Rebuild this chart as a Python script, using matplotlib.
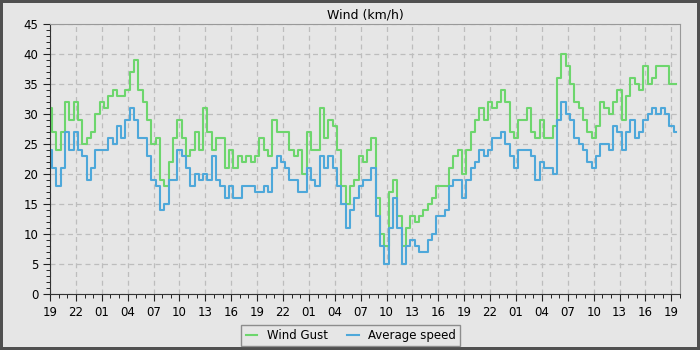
import matplotlib
matplotlib.use("Agg")
import matplotlib.pyplot as plt
import matplotlib.dates as mdates
from matplotlib.ticker import MultipleLocator
import pandas as pd

# wind readings every 30 min, starting 19:00
start = "2023-01-01 19:00"
gust = [31, 27, 24, 27, 32, 29, 32, 29, 25, 26, 27, 30, 32, 31, 33, 34, 33, 33, 34, 37, 39, 34, 32, 29,
        25, 26, 19, 18, 22, 26, 29, 26, 23, 24, 27, 24, 31, 27, 24, 26, 26, 21, 24, 21, 23, 22, 23, 22,
        23, 26, 24, 23, 29, 27, 27, 27, 24, 23, 24, 20, 27, 24, 24, 31, 26, 29, 28, 24, 18, 15, 18, 19,
        23, 22, 24, 26, 16, 10, 8, 17, 19, 13, 8, 11, 13, 12, 13, 14, 15, 16, 18, 18, 18, 21, 23, 24,
        20, 24, 27, 29, 31, 29, 32, 31, 32, 34, 32, 27, 26, 29, 29, 31, 27, 26, 29, 26, 26, 28, 36, 40,
        38, 35, 32, 31, 29, 27, 26, 28, 32, 31, 30, 32, 34, 29, 33, 36, 35, 34, 38, 35, 36, 38, 38, 38, 35, 35]
avg = [24, 21, 18, 21, 27, 24, 27, 24, 23, 19, 21, 24, 24, 24, 26, 25, 28, 26, 29, 31, 29, 26, 26, 23,
       19, 18, 14, 15, 19, 19, 24, 23, 21, 18, 20, 19, 20, 19, 23, 19, 18, 16, 18, 16, 16, 18, 18, 18,
       17, 17, 18, 17, 21, 23, 22, 21, 19, 19, 17, 17, 21, 19, 18, 23, 21, 23, 21, 18, 15, 11, 14, 16,
       18, 19, 19, 21, 13, 8, 5, 11, 16, 11, 5, 8, 9, 8, 7, 7, 9, 10, 13, 13, 14, 18, 19, 19,
       16, 19, 21, 22, 24, 23, 24, 26, 26, 27, 25, 23, 21, 24, 24, 24, 23, 19, 22, 21, 21, 20, 29, 32,
       30, 29, 26, 25, 24, 22, 21, 23, 25, 25, 24, 28, 27, 24, 27, 29, 26, 27, 29, 30, 31, 30, 31, 30, 28, 27]

times = pd.date_range(start, periods=len(gust), freq="30min")

bg = "#e6e6e6"
fig = plt.figure(figsize=(7, 3.5), dpi=100, facecolor=bg, edgecolor="#505050", linewidth=3)
ax = fig.add_axes([0.0714, 0.16, 0.9, 0.7714])
ax.set_facecolor(bg)

ax.plot(times, gust, color="#6dd66d", lw=1.5, drawstyle="steps-mid", label="Wind Gust")
ax.plot(times, avg, color="#4ea8da", lw=1.5, drawstyle="steps-mid", label="Average speed")

ax.set_xlim(pd.Timestamp(start), pd.Timestamp(start) + pd.Timedelta(hours=73))
ax.set_ylim(0, 45)
ax.xaxis.set_major_locator(mdates.HourLocator(byhour=[1, 4, 7, 10, 13, 16, 19, 22]))
ax.xaxis.set_minor_locator(mdates.HourLocator())
ax.xaxis.set_major_formatter(mdates.DateFormatter("%H"))
ax.yaxis.set_major_locator(MultipleLocator(5))
ax.yaxis.set_minor_locator(MultipleLocator(1))

ax.grid(True, which="major", color="#bdbdbd", linestyle=(0, (4, 3)), linewidth=0.9)
for s in ax.spines.values():
    s.set_color("#999999")
ax.spines["left"].set_color("#333333")
ax.spines["bottom"].set_color("#333333")
ax.tick_params(which="major", length=5, width=0.8, labelsize=8.5, direction="out", color="#222222")
ax.tick_params(which="minor", length=3, width=0.7, direction="out", color="#222222")

ax.set_title("Wind (km/h)", fontsize=9, pad=4)

leg = fig.legend(loc="lower center", bbox_to_anchor=(0.501, 0.012), ncol=2, fontsize=8.5,
                 frameon=True, fancybox=False, handlelength=1.0, columnspacing=1.6,
                 borderpad=0.35, borderaxespad=0)
leg.get_frame().set_facecolor(bg)
leg.get_frame().set_edgecolor("#777777")

fig.savefig("out.png", dpi=100, facecolor=bg, edgecolor="#505050")
